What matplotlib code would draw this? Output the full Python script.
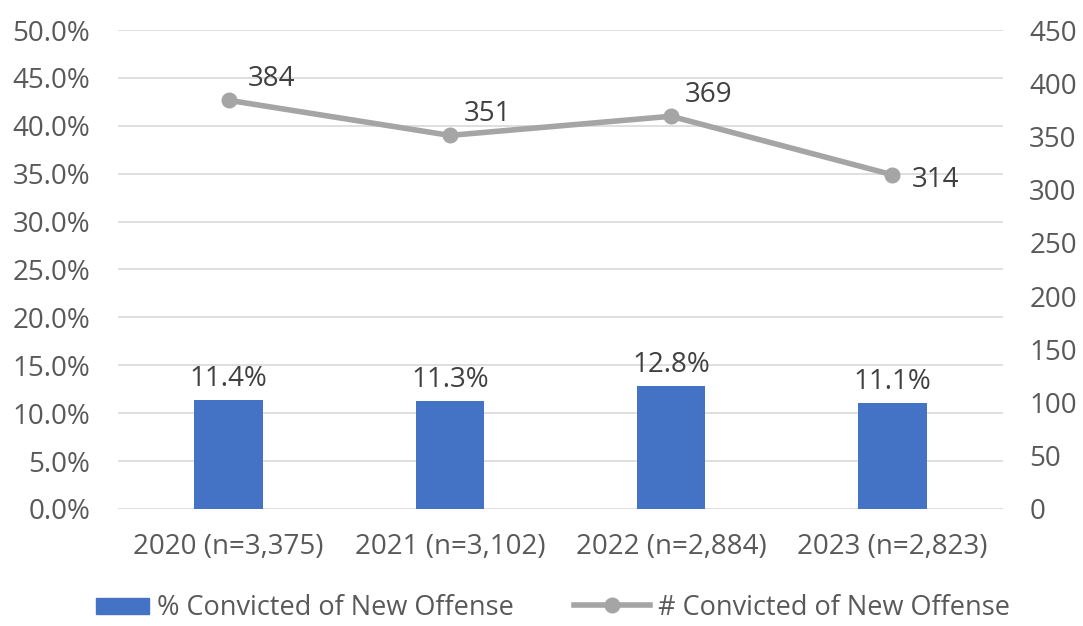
import matplotlib
matplotlib.use("Agg")
import matplotlib.pyplot as plt
from matplotlib.ticker import FuncFormatter, MultipleLocator
from matplotlib.lines import Line2D
from matplotlib.patches import Patch, Rectangle
from matplotlib.legend_handler import HandlerPatch

# data
years = ["2020 (n=3,375)", "2021 (n=3,102)", "2022 (n=2,884)", "2023 (n=2,823)"]
pct_convicted = [11.4, 11.3, 12.8, 11.1]
num_convicted = [384, 351, 369, 314]

BLUE = "#4472C4"
GRAY = "#A5A5A5"
TXT = "#595959"
GRID = "#D9D9D9"
FS = 20

plt.rcParams["font.family"] = ["Open Sans", "DejaVu Sans"]
plt.rcParams["font.size"] = FS

fig = plt.figure(figsize=(10.83, 6.26), dpi=100)
ax = fig.add_axes([0.109, 0.187, 0.817, 0.765])
ax2 = ax.twinx()

x = list(range(len(years)))
ax.bar(x, pct_convicted, width=0.31, color=BLUE, zorder=2)
for xi, v in zip(x, pct_convicted):
    ax.annotate(f"{v:.1f}%", (xi, v), xytext=(0, 5), textcoords="offset points",
                ha="center", va="bottom", color="#404040", fontsize=FS)

ax2.plot(x, num_convicted, color=GRAY, lw=4, marker="o", ms=10.5, zorder=3)
offsets = [(14, 5), (10, 5), (10, 5), (14, -14)]
for xi, v, off in zip(x, num_convicted, offsets):
    ax2.annotate(str(v), (xi, v), xytext=off, textcoords="offset points",
                 ha="left", va="bottom", color="#404040", fontsize=FS)

ax.set_xlim(-0.5, 3.5)
ax.set_ylim(0, 50)
ax2.set_ylim(0, 450)
ax.yaxis.set_major_locator(MultipleLocator(5))
ax.yaxis.set_major_formatter(FuncFormatter(lambda v, p: f"{v:.1f}%"))
ax2.yaxis.set_major_locator(MultipleLocator(50))
ax.set_xticks(x)
ax.set_xticklabels(years)

ax.grid(axis="y", color=GRID, lw=1.2, zorder=0)
ax.set_axisbelow(True)
for a in (ax, ax2):
    for s in a.spines.values():
        s.set_visible(False)
    a.tick_params(length=0, colors=TXT, labelsize=FS)
ax.tick_params(axis="y", pad=20)
ax2.tick_params(axis="y", pad=19)
ax.tick_params(axis="x", pad=17)


def small_box(legend, orig_handle, xdescent, ydescent, width, height, fontsize):
    # narrower, flatter box like the reference legend key
    return Rectangle((xdescent + width * 0.3, ydescent + height * 0.05),
                     width * 0.7, height * 0.85)


handles = [Patch(color=BLUE, label="% Convicted of New Offense"),
           Line2D([], [], color=GRAY, lw=4, marker="o", ms=10.5,
                  label="# Convicted of New Offense")]
leg = fig.legend(handles=handles, loc="lower center", bbox_to_anchor=(0.5, -0.032),
                 ncol=2, frameon=False, fontsize=19.5, labelcolor=TXT,
                 handlelength=2.8, handletextpad=0.3, columnspacing=2.2,
                 handler_map={Patch: HandlerPatch(patch_func=small_box)})

fig.savefig("out.png", dpi=100)
